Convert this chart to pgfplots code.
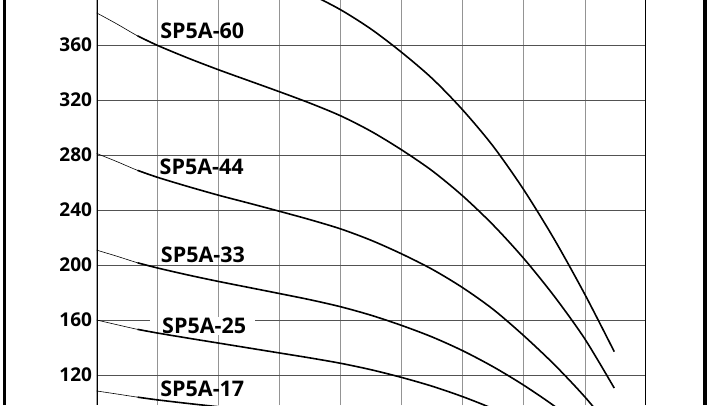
\documentclass[border=0pt]{standalone}
\usepackage{pgfplots}
\pgfplotsset{compat=1.18}
\usepackage{fontspec}
\setmainfont{Open Sans}
\begin{document}
\begin{tikzpicture}[x=1pt,y=1pt,
  lbl/.style={inner sep=0pt, font=\fontsize{21.5}{24}\selectfont\bfseries},
  thinpart/.style={black, line width=0.6pt, smooth},
  thickpart/.style={black, line width=1.6pt, smooth}]
\useasboundingbox (0,0) rectangle (720,405);
\draw[line width=3pt] (4.5,0) -- (4.5,405);
\draw[line width=3.5pt] (705,0) -- (705,405);
\begin{axis}[
  at={(96.7pt,0pt)}, anchor=south west,
  scale only axis, width=549.3pt, height=405pt,
  xmin=0, xmax=9, ymin=98.2, ymax=392.7,
  axis line style={draw=none},
  xtick={1,2,...,8}, xticklabels={},
  ytick={120,160,200,240,280,320,360},
  major tick length=0pt,
  grid=major,
  x grid style={black!42, line width=0.9pt},
  y grid style={black!68, line width=0.9pt},
  /pgf/number format/assume math mode=true,
  yticklabel style={anchor=east, inner sep=0pt, xshift=-4.5pt,
    font=\fontsize{19}{21}\selectfont\bfseries},
  clip=true,
]
% label with white gap in grid line
\draw[white, line width=2.5pt] (axis cs:0.873,160) -- (axis cs:2.594,160);
\draw[black!42, line width=0.9pt] (axis cs:1,156) -- (axis cs:1,164);
\node[lbl, fill=white, inner ysep=1pt] at (axis cs:1.76,155.8) {SP5A-25};
\node[lbl] at (axis cs:1.73,370.3) {SP5A-60};
\node[lbl] at (axis cs:1.72,271.2) {SP5A-44};
\node[lbl] at (axis cs:1.74,207.5) {SP5A-33};
\node[lbl] at (axis cs:1.73,109.7) {SP5A-17};
% top curve (its label lies outside the view)
\addplot[thickpart] coordinates {
(1.5,438) (2,427.4) (2.5,417.4) (3,407.4) (3.5,397) (4,385.5) (4.5,371.4) (5,354.5) (5.5,335.5) (6,312.6) (6.5,286.1) (7,254.5) (7.5,218.5) (8,178.5) (8.48,137)};
% SP5A-60
\addplot[thinpart] coordinates {(0,383.3) (0.33,375.3) (0.67,366.6) (1,359.6)};
\addplot[thickpart] coordinates {
(0.67,366.6) (1,359.6) (1.5,350.4) (2,341.9) (2.5,333.9) (3,325.9) (3.5,317.6) (4,308.4) (4.5,297.1) (5,283.6) (5.5,268.4) (6,250.1) (6.5,228.9) (7,204.6) (7.5,177.1) (8,146.1) (8.48,110.5)};
% SP5A-44
\addplot[thinpart] coordinates {(0,281.1) (0.33,275.2) (0.67,268.8) (1,263.7)};
\addplot[thickpart] coordinates {
(0.67,268.8) (1,263.7) (1.5,257) (2,250.7) (2.5,244.9) (3,239) (3.5,232.9) (4,226.2) (4.5,217.9) (5,208) (5.5,196.8) (6,183.4) (6.5,167.6) (7,148.5) (7.5,127.5) (8,104) (8.48,78.5)};
% SP5A-33
\addplot[thinpart] coordinates {(0,210.8) (0.33,206.4) (0.67,201.6) (1,197.8)};
\addplot[thickpart] coordinates {
(0.67,201.6) (1,197.8) (1.5,192.7) (2,188) (2.5,183.6) (3,179.2) (3.5,174.7) (4,169.6) (4.5,163.4) (5,156) (5.5,147.6) (6,137.6) (6.5,125.9) (7,112.5) (7.5,97.4) (8,80.4) (8.48,60.8)};
% SP5A-25
\addplot[thinpart] coordinates {(0,160) (0.33,156.6) (0.67,153.2) (1,150.5)};
\addplot[thickpart] coordinates {
(0.67,153.2) (1,150.5) (1.5,146.8) (2,143.2) (2.5,139.6) (3,136) (3.5,132.4) (4,128.5) (4.5,123.8) (5,118.2) (5.5,111.8) (6,104.2) (6.5,95.4) (7,85.3) (7.5,73.8) (8,60.9) (8.48,46)};
% SP5A-17
\addplot[thinpart] coordinates {(0,108.4) (0.33,106.2) (0.67,103.9) (1,101.9)};
\addplot[thickpart] coordinates {
(0.67,103.9) (1,101.9) (1.5,99.3) (2,96.9) (2.5,94.6) (3,92.3) (3.5,90) (4,87.4) (4.5,84.2) (5,80.3) (5.5,76) (6,70.9) (6.5,64.8) (7,58) (7.5,50.2) (8,41.4) (8.48,31.3)};
% axis frame lines left and right
\draw[line width=2.7pt] (rel axis cs:0,0) -- (rel axis cs:0,1);
\draw[line width=2.7pt] (rel axis cs:1,0) -- (rel axis cs:1,1);
\end{axis}
\end{tikzpicture}
\end{document}
